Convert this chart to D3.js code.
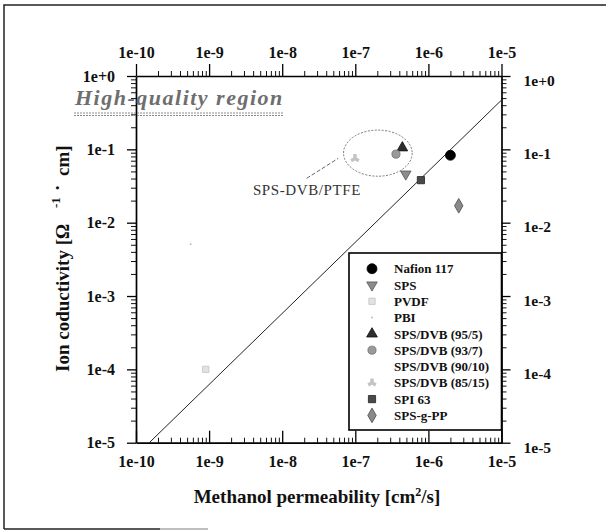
<!DOCTYPE html>
<html>
<head>
<meta charset="utf-8">
<script src="https://cdn.jsdelivr.net/npm/d3@7"></script>
<style>
  body { margin: 0; background: #fff; }
  svg text { font-family: "Liberation Serif", "Times New Roman", serif; }
</style>
</head>
<body>
<div id="chart"></div>
<script>

// membranes, in legend order
var membranes = ["Nafion 117", "SPS", "PVDF", "PBI", "SPS/DVB (95/5)", "SPS/DVB (93/7)",
                 "SPS/DVB (90/10)", "SPS/DVB (85/15)", "SPI 63", "SPS-g-PP"];
// methanol permeability [cm2/s] (null = no visible point)
var permeability = [2.0e-6, 4.9e-7, 9.0e-10, 5.6e-10, 4.4e-7, 3.6e-7, null, 9.9e-8, 7.9e-7, 2.6e-6];
// ion conductivity [1/(ohm cm)]
var conductivity = [0.083, 0.046, 1.0e-4, 5.1e-3, 0.105, 0.086, null, 0.075, 0.038, 0.017];

// trade-off line
var trendPerm = [1.52e-10, 1e-5];
var trendCond = [1e-5, 0.47];

// axis ticks
var xTicks = [1e-10, 1e-9, 1e-8, 1e-7, 1e-6, 1e-5];
var xTickLabels = ["1e-10", "1e-9", "1e-8", "1e-7", "1e-6", "1e-5"];
var yTicks = [1e-5, 1e-4, 1e-3, 1e-2, 1e-1, 1];
var yTickLabels = ["1e-5", "1e-4", "1e-3", "1e-2", "1e-1", "1e+0"];

// SPS-DVB/PTFE group: outline bounds, leader line and label anchor (data space)
var groupPerm = [6.9e-8, 6.0e-7];
var groupCond = [0.043, 0.183];
var leaderPerm = [2.16e-8, 5.85e-8];
var leaderCond = [0.0402, 0.0754];
var groupLabel = {text: "SPS-DVB/PTFE", perm: 2.18e-8, cond: 0.0238};

/**
 * Log-log chart of conductivity vs methanol permeability
 */
function PermChart(){
    var self = this;
    self.init();
};

PermChart.prototype.init = function(){
    var self = this;
    self.width = 606;
    self.height = 530;

    self.svg = d3.select("#chart").append("svg")
        .attr("width", self.width)
        .attr("height", self.height);

    self.x = d3.scaleLog().domain([1e-10, 1e-5]).range([136, 501.5]);
    self.y = d3.scaleLog().domain([1e-5, 1]).range([442.7, 76]);

    // symbol look for each membrane
    self.style = {
        "Nafion 117":      {shape: d3.symbolCircle,   size: 78, fill: "#000",    stroke: "#000"},
        "SPS":             {shape: d3.symbolTriangle, size: 48, fill: "#8c8c8c", stroke: "#555", rotate: 180},
        "PVDF":            {shape: d3.symbolSquare,   size: 40, fill: "#e2e2e2", stroke: "#c4c4c4"},
        "PBI":             {shape: d3.symbolCircle,   size: 3,  fill: "#bbb",    stroke: "none"},
        "SPS/DVB (95/5)":  {shape: d3.symbolTriangle, size: 50, fill: "#2e2e2e", stroke: "#111"},
        "SPS/DVB (93/7)":  {shape: d3.symbolCircle,   size: 52, fill: "#9a9a9a", stroke: "#707070"},
        "SPS/DVB (90/10)": {shape: d3.symbolCircle,   size: 40, fill: "#fff",    stroke: "none"},
        "SPS/DVB (85/15)": {shape: d3.symbolWye,      size: 40, fill: "#c4c4c4", stroke: "none", rotate: 180},
        "SPI 63":          {shape: d3.symbolSquare,   size: 52, fill: "#4a4a4a", stroke: "#222"},
        "SPS-g-PP":        {shape: d3.symbolDiamond,  size: 62, fill: "#8a8a8a", stroke: "#4a4a4a"}
    };
};

PermChart.prototype.marker = function(sel){
    var self = this;
    sel.attr("d", function(d){ var s = self.style[d.name]; return d3.symbol().type(s.shape).size(s.size)(); })
        .attr("fill", function(d){ return self.style[d.name].fill; })
        .attr("stroke", function(d){ return self.style[d.name].stroke; })
        .attr("stroke-width", 0.8);
};

PermChart.prototype.update = function(){
    var self = this;
    var x = self.x, y = self.y;

    // scanned page border
    self.svg.append("path")
        .attr("d", "M4,529V5H606")
        .attr("fill", "none").attr("stroke", "#222").attr("stroke-width", 1.5);
    self.svg.append("line").attr("x1", 4).attr("x2", 160).attr("y1", 529).attr("y2", 529)
        .attr("stroke", "#222").attr("stroke-width", 1.5);
    self.svg.append("line").attr("x1", 160).attr("x2", 208).attr("y1", 529).attr("y2", 529)
        .attr("stroke", "#aaa").attr("stroke-width", 1.5);

    // minor ticks 2..9 in each decade
    var minorX = [], minorY = [];
    d3.range(-10, -5).forEach(function(e){ d3.range(2, 10).forEach(function(k){ minorX.push(k * Math.pow(10, e)); }); });
    d3.range(-5, 0).forEach(function(e){ d3.range(2, 10).forEach(function(k){ minorY.push(k * Math.pow(10, e)); }); });

    var fmtX = function(d, i){ return xTickLabels[i]; };
    var fmtY = function(d, i){ return yTickLabels[i]; };

    var axes = [
        {ax: d3.axisTop(x).tickValues(xTicks).tickSize(12).tickPadding(6).tickFormat(fmtX),
         minor: d3.axisTop(x).tickValues(minorX).tickSize(5), at: [0, y.range()[1]], fs: 16},
        {ax: d3.axisBottom(x).tickValues(xTicks).tickSize(-12).tickPadding(13).tickFormat(fmtX),
         minor: d3.axisBottom(x).tickValues(minorX).tickSize(-5), at: [0, y.range()[0]], fs: 16},
        {ax: d3.axisLeft(y).tickValues(yTicks).tickSize(9).tickPadding(12).tickFormat(fmtY),
         minor: d3.axisLeft(y).tickValues(minorY).tickSize(5), at: [x.range()[0], 0], fs: 16},
        {ax: d3.axisRight(y).tickValues(yTicks).tickSize(9).tickPadding(13).tickFormat(fmtY),
         minor: d3.axisRight(y).tickValues(minorY).tickSize(5), at: [x.range()[1], 0], fs: 15.5, right: true}
    ];

    axes.forEach(function(a){
        var g = self.svg.append("g")
            .attr("transform", "translate(" + a.at[0] + "," + a.at[1] + ")");
        g.append("g").call(a.minor.tickSizeOuter(0).tickFormat(""))
            .call(function(s){ s.select(".domain").remove(); })
            .selectAll("line").attr("stroke", "#111").attr("stroke-width", 1);
        var main = g.append("g").call(a.ax.tickSizeOuter(0));
        main.select(".domain").attr("stroke", "#000").attr("stroke-width", 1.7);
        main.selectAll(".tick line").attr("stroke", "#000").attr("stroke-width", 1.3);
        main.selectAll("text")
            .style("font-family", '"Liberation Serif", "Times New Roman", serif')
            .style("font-size", a.fs + "px")
            .style("font-weight", "bold")
            .attr("fill", "#111");
        if (a.right) main.selectAll("text").attr("dy", "0.6em");
    });

    // trade-off line
    var line = d3.line()
        .x(function(d){ return x(d[0]); })
        .y(function(d){ return y(d[1]); });
    self.svg.append("path")
        .datum(d3.zip(trendPerm, trendCond))
        .attr("d", line)
        .attr("fill", "none").attr("stroke", "#222").attr("stroke-width", 1);

    // group outline + leader + label
    var gx0 = x(groupPerm[0]), gx1 = x(groupPerm[1]);
    var gy0 = y(groupCond[1]), gy1 = y(groupCond[0]);
    self.svg.append("ellipse")
        .attr("cx", (gx0 + gx1) / 2).attr("cy", (gy0 + gy1) / 2)
        .attr("rx", (gx1 - gx0) / 2).attr("ry", (gy1 - gy0) / 2)
        .attr("fill", "none").attr("stroke", "#777").attr("stroke-width", 1)
        .attr("stroke-dasharray", "2,1.5");
    self.svg.append("path")
        .datum(d3.zip(leaderPerm, leaderCond))
        .attr("d", line)
        .attr("fill", "none").attr("stroke", "#666").attr("stroke-width", 1)
        .attr("stroke-dasharray", "4,2");
    self.svg.append("text")
        .attr("x", x(groupLabel.perm)).attr("y", y(groupLabel.cond))
        .attr("text-anchor", "middle")
        .style("font-size", "15px")
        .attr("fill", "#333")
        .attr("letter-spacing", "0.6")
        .text(groupLabel.text);

    // "High-quality region" note
    self.svg.append("text")
        .attr("x", 75).attr("y", 105)
        .style("font-size", "22px").style("font-style", "italic").style("font-weight", "bold")
        .attr("letter-spacing", "1.5")
        .attr("fill", "#6e6e6e")
        .text("High-quality region");
    [113, 115.5].forEach(function(yy){
        self.svg.append("line").attr("x1", 74).attr("x2", 283).attr("y1", yy).attr("y2", yy)
            .attr("stroke", "#8a8a8a").attr("stroke-width", 1).attr("stroke-dasharray", "2,1");
    });

    // points
    var pts = membranes.map(function(n, i){ return {name: n, p: permeability[i], c: conductivity[i]}; })
        .filter(function(d){ return d.p != null && d.c != null; });
    self.svg.append("g").selectAll("path").data(pts).enter().append("path")
        .attr("transform", function(d){
            var r = self.style[d.name].rotate || 0;
            return "translate(" + x(d.p) + "," + y(d.c) + ") rotate(" + r + ")";
        })
        .call(self.marker.bind(self));

    // legend
    var lg = self.svg.append("g");
    lg.append("rect")
        .attr("x", 349).attr("y", 253).attr("width", x.range()[1] - 349).attr("height", 177)
        .attr("fill", "#fff").attr("stroke", "#000").attr("stroke-width", 1.6);
    var rows = lg.selectAll("g.row").data(membranes.map(function(n){ return {name: n}; }))
        .enter().append("g")
        .attr("transform", function(d, i){ return "translate(372," + (268.7 + i * 16.3) + ")"; });
    rows.append("path")
        .attr("transform", function(d){ return "rotate(" + (self.style[d.name].rotate || 0) + ")"; })
        .call(self.marker.bind(self));
    rows.append("text")
        .attr("x", 22).attr("dy", "0.36em")
        .style("font-size", "13px").style("font-weight", "bold")
        .attr("fill", "#111")
        .text(function(d){ return d.name; });

    // axis titles
    var xt = self.svg.append("text")
        .attr("x", 317).attr("y", 503)
        .attr("text-anchor", "middle")
        .style("font-size", "19px").style("font-weight", "bold")
        .attr("fill", "#111");
    xt.append("tspan").text("Methanol permeability [cm");
    xt.append("tspan").attr("dy", -7).style("font-size", "12px").text("2");
    xt.append("tspan").attr("dy", 7).text("/s]");

    var yt = self.svg.append("text")
        .attr("transform", "translate(69,372) rotate(-90)")
        .style("font-size", "19px").style("font-weight", "bold")
        .attr("fill", "#111");
    yt.append("tspan").attr("x", 0).text("Ion coductivity [\u03A9");
    yt.append("tspan").attr("x", 164).attr("dy", -9).style("font-size", "13px").text("-1");
    yt.append("tspan").attr("x", 181).attr("dy", 4).text("\u00B7");
    yt.append("tspan").attr("x", 196).attr("dy", 5).text("cm]");
};

var chart = new PermChart();
chart.update();
</script>
</body>
</html>
